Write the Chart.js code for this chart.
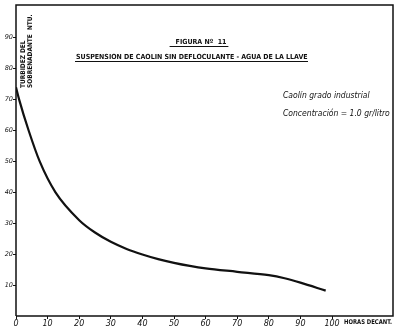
<!DOCTYPE html>
<html>
<head>
<meta charset="utf-8">
<script src="https://cdn.jsdelivr.net/npm/chart.js@4.4.0/dist/chart.umd.min.js"></script>
<style>
  html, body { margin: 0; padding: 0; background: #fff; }
  #wrap { width: 396px; height: 326px; position: relative; }
</style>
</head>
<body>
<div id="wrap"><canvas id="chart"></canvas></div>
<script>
// horas de decantacion vs turbidez del sobrenadante (NTU)
const hours = [0, 1, 4, 7.5, 12.5, 20, 25, 30, 35, 40, 45, 50, 55, 60, 70, 80, 85, 90, 98];
const turbidity = [74, 70, 60, 50, 40, 31, 27, 24, 21.7, 19.9, 18.4, 17.2, 16.2, 15.4, 14.3, 13.2, 12.2, 10.8, 8.2];

const figTitle = "FIGURA Nº  11";
const figSubtitle = "SUSPENSION DE CAOLIN SIN DEFLOCULANTE - AGUA DE LA LLAVE";
const noteLines = ["Caolín grado industrial", "Concentración = 1.0 gr/litro"];
const yTitleLines = ["TURBIDEZ DEL", "SOBRENADANTE  NTU."];
const xTitle = "HORAS DECANT.";

const ink = "#111";

const paperPlugin = {
  id: "paper",
  afterDraw(chart) {
    let ctx = chart.ctx;
    let a = chart.chartArea;
    ctx.save();
    // marco
    ctx.strokeStyle = ink;
    ctx.lineWidth = 1.5;
    ctx.beginPath();
    ctx.moveTo(a.left, a.bottom);
    ctx.lineTo(a.left, a.top);
    ctx.lineTo(a.right, a.top);
    ctx.lineTo(a.right, a.bottom);
    ctx.lineTo(a.left, a.bottom);
    ctx.stroke();

    // titulos
    ctx.fillStyle = ink;
    ctx.textBaseline = "alphabetic";
    ctx.font = "bold 7px 'DejaVu Sans Condensed', 'DejaVu Sans'";
    ctx.textAlign = "center";
    ctx.fillText(figTitle, 201, 44);
    let w1 = ctx.measureText(figTitle).width;
    ctx.lineWidth = 1;
    ctx.beginPath();
    ctx.moveTo(201 - w1 / 2 - 6, 46.5);
    ctx.lineTo(201 + w1 / 2 + 2, 46.5);
    ctx.stroke();

    ctx.textAlign = "left";
    ctx.fillText(figSubtitle, 76, 59);
    ctx.beginPath();
    ctx.moveTo(75, 61.5);
    ctx.lineTo(308, 61.5);
    ctx.stroke();

    // nota
    ctx.font = "italic 8.5px 'DejaVu Sans Condensed', 'DejaVu Sans'";
    ctx.fillText(noteLines[0], 283, 98, 90);
    ctx.fillText(noteLines[1], 283, 116, 108);

    // titulo eje x
    ctx.font = "bold 6.5px 'DejaVu Sans Condensed', 'DejaVu Sans'";
    ctx.fillText(xTitle, 344, 324, 48);

    // titulo eje y (vertical)
    ctx.translate(25, 88);
    ctx.rotate(-Math.PI / 2);
    ctx.fillText(yTitleLines[0], 0, 0, 52);
    ctx.fillText(yTitleLines[1], 0, 7, 80);
    ctx.restore();
  },
};

new Chart(document.getElementById("chart"), {
  type: "line",
  data: {
    datasets: [
      {
        data: hours.map((h, i) => ({ x: h, y: turbidity[i] })),
        borderColor: ink,
        borderWidth: 2.2,
        pointRadius: 0,
        fill: false,
        cubicInterpolationMode: "monotone",
      },
    ],
  },
  plugins: [paperPlugin],
  options: {
    responsive: true,
    maintainAspectRatio: false,
    animation: false,
    layout: { padding: { top: 5, right: 3, left: 0, bottom: 0 } },
    plugins: {
      legend: { display: false },
      tooltip: { enabled: false },
    },
    scales: {
      x: {
        type: "linear",
        min: 0,
        max: 119.3,
        afterFit: (s) => {
          s.height = 10;
        },
        border: { display: false },
        grid: { drawOnChartArea: false, color: ink, tickLength: 3, lineWidth: 1 },
        ticks: {
          stepSize: 10,
          padding: 0,
          maxRotation: 0,
          autoSkip: false,
          color: ink,
          font: { size: 8, style: "italic", family: "'DejaVu Sans'" },
          callback: (v) => (v <= 100 ? v : ""),
        },
        afterBuildTicks: (s) => {
          s.ticks = s.ticks.filter((t) => t.value <= 100);
        },
      },
      y: {
        min: 0,
        max: 100.6,
        afterFit: (s) => {
          s.width = 16;
        },
        border: { display: false },
        grid: { drawOnChartArea: false, color: ink, tickLength: 3, lineWidth: 1 },
        ticks: {
          stepSize: 10,
          padding: 0,
          color: ink,
          font: { size: 6.5, style: "italic", family: "'DejaVu Sans'" },
          callback: (v) => (v > 0 && v < 100 ? v : ""),
        },
        afterBuildTicks: (s) => {
          s.ticks = s.ticks.filter((t) => t.value > 0 && t.value < 100);
        },
      },
    },
  },
});
</script>
</body>
</html>
